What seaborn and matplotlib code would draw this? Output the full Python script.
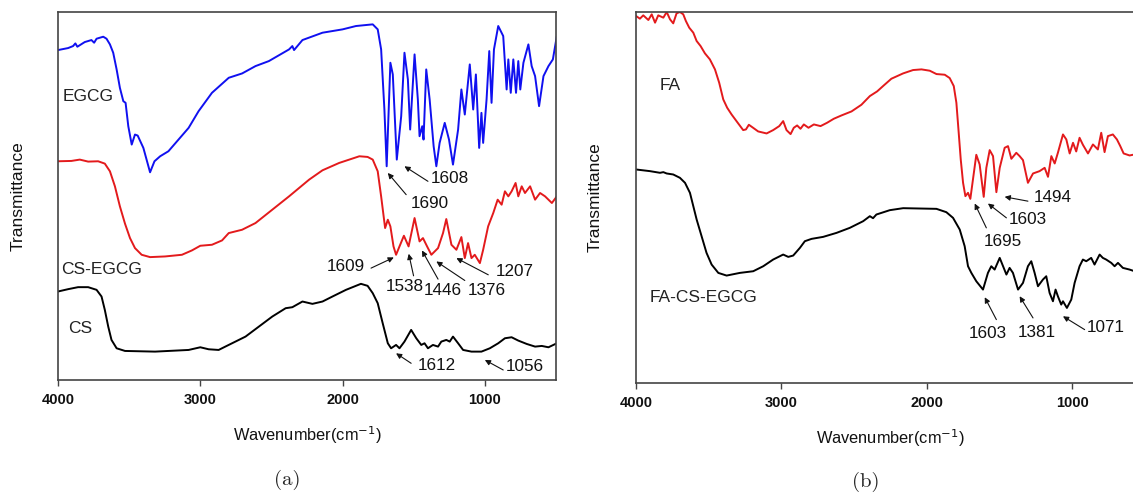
import matplotlib
matplotlib.use("Agg")
import matplotlib.pyplot as plt
import seaborn as sns
import numpy as np

# ---------------- Panel (a) data ----------------
egcg_wn = [4000, 3929, 3894, 3878, 3864, 3812, 3765, 3746, 3729, 3682, 3659, 3635, 3612, 3588, 3565,
           3541, 3525, 3506, 3482, 3459, 3440, 3400, 3353, 3322, 3282, 3224, 3153, 3082, 3012, 2918,
           2800, 2706, 2612, 2518, 2376, 2353, 2341, 2282, 2141, 2000, 1906, 1788, 1753, 1729, 1706,
           1690, 1664, 1647, 1619, 1588, 1565, 1541, 1525, 1494, 1471, 1459, 1440, 1431, 1412, 1388,
           1360, 1341, 1318, 1282, 1252, 1224, 1188, 1165, 1141, 1106, 1082, 1063, 1040, 1024, 1012,
           988, 969, 953, 936, 906, 871, 847, 835, 818, 800, 781, 765, 751, 729, 694, 671, 647, 619,
           588, 553, 522, 494]
egcg_t = [98.8, 99.4, 100.0, 100.8, 99.8, 101.2, 101.8, 101.0, 102.2, 102.8, 102.2, 100.5, 98.0, 93.0, 87.5,
          83.5, 83.0, 76.0, 70.5, 73.5, 73.2, 69.5, 62.2, 65.5, 67.0, 68.5, 72.0, 75.5, 80.5, 86.0,
          90.5, 91.8, 94.0, 95.5, 99.0, 100.0, 98.8, 101.8, 104.0, 105.0, 106.0, 106.5, 105.0, 99.0, 81.0,
          64.0, 95.0, 91.5, 66.0, 79.0, 98.0, 90.0, 75.0, 97.5, 84.0, 73.0, 76.0, 72.0, 93.0, 84.0,
          70.0, 64.0, 71.0, 77.0, 72.0, 64.5, 75.0, 87.0, 79.5, 94.5, 81.0, 91.5, 69.5, 80.0, 71.0,
          84.0, 98.5, 83.0, 99.0, 106.0, 103.0, 87.0, 96.0, 86.0, 96.0, 86.0, 95.5, 87.0, 95.0, 100.5, 94.0, 91.0, 82.0,
          91.0, 94.0, 96.0, 103.0]

csegcg_wn = [4000, 3906, 3847, 3788, 3718, 3671, 3635, 3600, 3565, 3529, 3494, 3459, 3412, 3353, 3247,
             3129, 3059, 3000, 2918, 2847, 2800, 2706, 2612, 2494, 2376, 2235, 2141, 2024, 1953, 1882,
             1824, 1788, 1753, 1729, 1701, 1682, 1664, 1642, 1624, 1600, 1569, 1536, 1494, 1459, 1435,
             1406, 1376, 1329, 1294, 1271, 1235, 1200, 1165, 1141, 1118, 1094, 1071, 1035, 1012, 977,
             941, 910, 882, 859, 835, 812, 784, 765, 741, 718, 682, 647, 612, 577, 529, 494]
csegcg_t = [65.5, 65.6, 66.0, 65.4, 65.5, 64.8, 62.5, 58.0, 52.0, 46.8, 42.5, 39.5, 37.5, 36.8, 37.0,
            37.5, 38.8, 40.2, 40.5, 41.8, 44.0, 45.0, 47.0, 51.0, 55.0, 60.0, 62.8, 65.0, 66.0, 67.0,
            66.8, 66.0, 62.5, 55.0, 45.5, 48.0, 46.0, 40.0, 37.5, 40.0, 43.2, 40.0, 48.5, 41.5, 42.5,
            40.0, 37.5, 39.5, 44.0, 48.2, 40.5, 39.0, 42.8, 36.5, 41.0, 36.5, 37.5, 35.0, 39.0, 46.0,
            50.0, 54.0, 52.5, 56.5, 55.0, 56.5, 59.0, 55.0, 58.0, 56.0, 58.0, 54.0, 56.0, 55.0, 53.0, 55.0]

cs_wn = [4000, 3929, 3859, 3788, 3729, 3694, 3671, 3647, 3624, 3588, 3529, 3318, 3082, 3000, 2941,
         2871, 2824, 2753, 2682, 2588, 2494, 2400, 2353, 2282, 2212, 2141, 2071, 1976, 1906, 1871,
         1824, 1788, 1753, 1718, 1682, 1659, 1624, 1600, 1565, 1518, 1482, 1447, 1424, 1400, 1365,
         1329, 1306, 1271, 1247, 1224, 1188, 1153, 1094, 1024, 965, 906, 859, 812, 765, 706, 647,
         600, 553, 494]
cs_t = [26.5, 27.2, 27.8, 27.8, 27.0, 25.0, 21.0, 16.0, 12.0, 9.5, 8.7, 8.5, 9.0, 9.8, 9.2,
        9.0, 10.0, 11.5, 13.0, 16.0, 19.0, 21.5, 21.8, 23.5, 22.8, 23.5, 25.0, 27.0, 28.2, 28.8,
        28.2, 26.0, 23.0, 17.0, 11.0, 9.5, 10.5, 9.5, 11.5, 15.0, 12.5, 10.5, 11.0, 9.5, 10.5,
        10.0, 11.5, 12.0, 11.5, 13.0, 11.0, 9.0, 8.5, 8.5, 9.5, 11.0, 12.5, 12.8, 11.8, 10.8, 10.0,
        10.2, 9.8, 11.0]

# annotations (a): label, text position, arrow tail, arrow tip
ann_a_labels = ["1690", "1608", "1609", "1538", "1446", "1376", "1207", "1612", "1056"]
ann_a_text = [(1388, 53.0), (1247, 60.3), (1976, 34.0), (1565, 28.0), (1294, 26.7), (988, 26.7),
              (788, 32.5), (1341, 4.3), (718, 4.0)]
ann_a_tail = [(1553, 55.5), (1400, 59.5), (1800, 33.5), (1501, 31.2), (1329, 30.2), (1141, 29.8),
              (976, 31.5), (1518, 5.0), (871, 3.0)]
ann_a_tip = [(1682, 62.0), (1565, 64.0), (1640, 36.7), (1535, 37.8), (1442, 38.8), (1341, 35.5),
             (1200, 36.5), (1624, 8.0), (1000, 6.0)]
series_a_labels = ["EGCG", "CS-EGCG", "CS"]
series_a_pos = [(3965, 85.0), (3976, 33.2), (3930, 15.5)]

# ---------------- Panel (b) data ----------------
fa_wn = [4000, 3973, 3950, 3915, 3892, 3869, 3847, 3812, 3789, 3766, 3744, 3721, 3698, 3675, 3657,
         3634, 3606, 3583, 3556, 3526, 3492, 3457, 3428, 3400, 3373, 3343, 3304, 3263, 3244, 3224,
         3198, 3160, 3102, 3057, 3015, 2988, 2965, 2937, 2915, 2892, 2869, 2846, 2814, 2777, 2731,
         2686, 2640, 2587, 2518, 2450, 2392, 2342, 2296, 2244, 2163, 2095, 2037, 1980, 1934, 1877,
         1843, 1815, 1797, 1781, 1767, 1751, 1735, 1717, 1701, 1683, 1660, 1637, 1609, 1591, 1568,
         1545, 1522, 1499, 1465, 1442, 1419, 1385, 1362, 1339, 1305, 1270, 1225, 1190, 1167, 1144,
         1121, 1099, 1064, 1041, 1018, 995, 973, 950, 927, 892, 858, 824, 801, 778, 755, 721, 693,
         670, 647, 606, 572]
fa_t = [110.0, 109.2, 110.2, 108.8, 110.5, 108.0, 110.2, 109.5, 111.2, 109.0, 107.8, 110.8, 111.2, 110.5, 108.5,
        106.5, 105.0, 102.5, 101.0, 98.8, 97.0, 94.0, 90.0, 85.0, 82.5, 80.5, 78.2, 75.8, 76.0, 77.4,
        76.6, 75.4, 74.8, 75.8, 77.0, 78.5, 75.8, 74.6, 76.5, 77.2, 76.2, 77.5, 76.5, 77.5, 77.0,
        78.0, 79.2, 80.2, 81.4, 83.4, 86.0, 87.4, 89.2, 91.2, 92.8, 93.8, 94.0, 93.6, 92.6, 92.4,
        91.4, 89.0, 84.0, 75.0, 67.0, 60.0, 56.0, 57.0, 55.2, 61.0, 68.4, 65.5, 55.8, 64.5, 69.8,
        68.0, 57.2, 64.5, 70.5, 71.0, 67.2, 69.0, 68.0, 66.8, 60.0, 62.8, 63.5, 64.5, 61.8, 68.0,
        65.8, 69.0, 74.5, 73.0, 68.8, 72.0, 69.4, 73.5, 71.4, 68.8, 71.5, 70.0, 75.0, 69.2, 74.0, 74.5, 73.0,
        71.0, 68.8, 68.2, 68.5]

facs_wn = [4000, 3904, 3835, 3812, 3789, 3744, 3698, 3663, 3629, 3606, 3583, 3549, 3515, 3480, 3434,
           3377, 3286, 3194, 3125, 3057, 2988, 2953, 2919, 2873, 2839, 2793, 2713, 2621, 2530, 2438,
           2392, 2370, 2347, 2255, 2163, 2049, 1934, 1866, 1820, 1774, 1740, 1717, 1694, 1660, 1614,
           1580, 1557, 1534, 1499, 1476, 1453, 1431, 1408, 1373, 1339, 1305, 1282, 1259, 1236, 1202,
           1179, 1156, 1133, 1115, 1099, 1076, 1064, 1037, 1007, 984, 950, 927, 904, 870, 847, 812,
           790, 767, 732, 709, 686, 652, 606, 572]
facs_t = [64.0, 63.5, 63.0, 63.2, 62.8, 62.5, 61.5, 60.0, 57.0, 53.0, 49.0, 44.0, 39.0, 35.5, 33.0,
          32.2, 33.0, 33.5, 35.0, 37.0, 38.5, 37.8, 38.2, 40.5, 42.5, 43.2, 43.8, 45.0, 46.5, 48.5,
          50.0, 49.4, 50.5, 51.8, 52.4, 52.3, 52.2, 51.2, 49.5, 46.0, 41.0, 35.0, 33.0, 30.5, 28.0,
          33.0, 35.0, 34.0, 37.5, 35.0, 32.5, 34.5, 33.0, 28.0, 30.0, 35.0, 36.5, 33.0, 29.0, 31.0,
          32.0, 27.0, 24.5, 28.0, 26.0, 23.5, 24.5, 22.5, 25.0, 30.0, 35.0, 37.0, 36.5, 37.5, 35.5, 38.5,
          37.5, 37.0, 36.0, 35.0, 36.0, 34.5, 34.0, 33.5]

ann_b_labels = ["1494", "1603", "1695", "1603", "1381", "1071"]
ann_b_text = [(1133, 55.5), (1305, 49.0), (1481, 42.3), (1580, 14.7), (1243, 15.0), (767, 16.5)]
ann_b_tail = [(1305, 54.5), (1453, 49.5), (1591, 46.5), (1522, 19.0), (1270, 19.5), (915, 16.0)]
ann_b_tip = [(1465, 55.8), (1580, 53.8), (1671, 53.8), (1602, 25.7), (1362, 26.0), (1064, 20.0)]
series_b_labels = ["FA", "FA-CS-EGCG"]
series_b_pos = [(3835, 89.2), (3904, 25.7)]

x_ticks = [4000, 3000, 2000, 1000]

# ---------------- Styling ----------------
sns.set_style("ticks")
plt.rcParams['font.family'] = ['Liberation Sans', 'DejaVu Sans']

BLUE = "#1010f0"
RED = "#e31a1c"
BLACK = "#000000"
SPINE = "#444444"
LW = 1.4

fig = plt.figure(figsize=(11.33, 4.94), dpi=100)
ax_a = fig.add_axes([58 / 1133, 1 - 380 / 494, 498 / 1133, 368 / 494])
ax_b = fig.add_axes([636 / 1133, 1 - 383 / 494, 509 / 1133, 371 / 494])


def style_axes(ax, ymax):
    ax.set_xlim(4000, 500)
    ax.set_ylim(0, ymax)
    ax.set_xticks(x_ticks)
    ax.set_xticklabels([str(t) for t in x_ticks], fontweight='bold', fontsize=10.5, color='#111111')
    ax.set_yticks([])
    ax.tick_params(axis='x', direction='out', length=4, width=1, color=SPINE, pad=5)
    for s in ax.spines.values():
        s.set_color(SPINE)
        s.set_linewidth(1.2)
        s.set_visible(True)
    ax.set_xlabel("Wavenumber(cm$^{-1}$)", fontsize=11.8, color='#111111')
    ax.xaxis.set_label_coords(0.5, -0.12)
    ax.set_ylabel("Transmittance", fontsize=12.5, color='#111111')
    ax.yaxis.set_label_coords(-0.066, 0.5)


def annotate(ax, labels, texts, tails, tips):
    for lab, t, a, b in zip(labels, texts, tails, tips):
        ax.text(t[0], t[1], lab, fontsize=12.3, ha='center', va='center', color='#111111')
        ax.annotate('', xy=b, xytext=a,
                    arrowprops=dict(arrowstyle='-|>', color='#111111', lw=0.8,
                                    mutation_scale=8, shrinkA=0, shrinkB=0))


# Panel (a)
sns.lineplot(x=egcg_wn, y=egcg_t, ax=ax_a, color=BLUE, lw=LW, estimator=None)
sns.lineplot(x=csegcg_wn, y=csegcg_t, ax=ax_a, color=RED, lw=LW, estimator=None)
sns.lineplot(x=cs_wn, y=cs_t, ax=ax_a, color=BLACK, lw=LW, estimator=None)
style_axes(ax_a, 110.2)
annotate(ax_a, ann_a_labels, ann_a_text, ann_a_tail, ann_a_tip)
for lab, (x, y) in zip(series_a_labels, series_a_pos):
    ax_a.text(x, y, lab, fontsize=12.5, ha='left', va='center', color='#222222')

# Panel (b)
sns.lineplot(x=fa_wn, y=fa_t, ax=ax_b, color=RED, lw=LW, estimator=None)
sns.lineplot(x=facs_wn, y=facs_t, ax=ax_b, color=BLACK, lw=LW, estimator=None)
style_axes(ax_b, 111.2)
ax_b.yaxis.set_label_coords(-0.065, 0.5)
annotate(ax_b, ann_b_labels, ann_b_text, ann_b_tail, ann_b_tip)
for lab, (x, y) in zip(series_b_labels, series_b_pos):
    ax_b.text(x, y, lab, fontsize=12.5, ha='left', va='center', color='#222222')

# captions
fig.text(287 / 1133, 1 - 480 / 494, "(a)", fontsize=15, ha='center', va='center',
         family='cmr10')
fig.text(866 / 1133, 1 - 482 / 494, "(b)", fontsize=15, ha='center', va='center',
         family='cmr10')

fig.savefig("out.png", dpi=100)
